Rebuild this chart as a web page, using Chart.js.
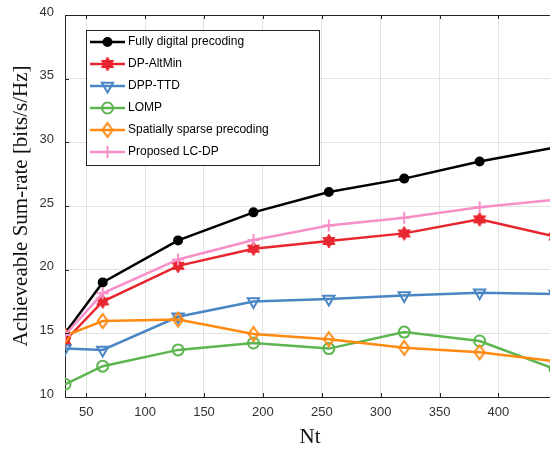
<!DOCTYPE html>
<html>
<head>
<meta charset="utf-8">
<script src="https://cdn.jsdelivr.net/npm/chart.js@4/dist/chart.umd.min.js"></script>
<style>
  html, body { margin: 0; padding: 0; background: #fff; overflow: hidden; }
  #wrap { width: 550px; height: 452px; overflow: hidden; }
  canvas { display: block; }
</style>
</head>
<body>
<div id="wrap"><canvas id="c" width="555" height="452"></canvas></div>
<script>
// Number of transmit antennas
const nt = [32, 64, 128, 192, 256, 320, 384, 448];

// Achievable sum-rate per scheme [bits/s/Hz]
const fullyDigital = [15.0, 19.0, 22.3, 24.5, 26.1, 27.15, 28.5, 29.6];
const dpAltMin     = [14.4, 17.5, 20.3, 21.65, 22.25, 22.85, 23.95, 22.6];
const dppTtd       = [13.8, 13.7, 16.3, 17.5, 17.7, 17.97, 18.19, 18.08];
const lomp         = [11.0, 12.42, 13.7, 14.24, 13.8, 15.1, 14.4, 12.2];
const spatialSparse= [14.8, 15.97, 16.08, 14.95, 14.54, 13.86, 13.51, 12.8];
const lcDp         = [14.87, 18.14, 20.8, 22.33, 23.47, 24.07, 24.9, 25.5];

const seriesNames = ['Fully digital precoding', 'DP-AltMin', 'DPP-TTD', 'LOMP',
                     'Spatially sparse precoding', 'Proposed LC-DP'];

// Axis ticks
const xTicks = [50, 100, 150, 200, 250, 300, 350, 400];
const yTicks = [10, 15, 20, 25, 30, 35, 40];

const C = {
  black: '#000000', red: '#e8262f', blue: '#4a86c3',
  green: '#5cb54f', orange: '#ff8a12', pink: '#f78fc8'
};

// Six-pointed star marker
function hexagram(color) {
  const cv = document.createElement('canvas');
  cv.width = 16; cv.height = 16;
  const g = cv.getContext('2d');
  const R = 7, r = R / Math.sqrt(3);
  g.beginPath();
  for (let i = 0; i < 12; i++) {
    const a = -Math.PI / 2 + i * Math.PI / 6;
    const rr = i % 2 === 0 ? R : r;
    const x = 8 + rr * Math.cos(a), y = 8 + rr * Math.sin(a);
    i === 0 ? g.moveTo(x, y) : g.lineTo(x, y);
  }
  g.closePath();
  g.fillStyle = color; g.fill();
  g.strokeStyle = color; g.lineWidth = 1; g.stroke();
  return cv;
}

// Tall hollow diamond marker
function diamond(color) {
  const cv = document.createElement('canvas');
  cv.width = 14; cv.height = 18;
  const g = cv.getContext('2d');
  g.beginPath();
  g.moveTo(7, 2); g.lineTo(12, 9); g.lineTo(7, 16); g.lineTo(2, 9);
  g.closePath();
  g.strokeStyle = color; g.lineWidth = 2; g.stroke();
  return cv;
}

function ds(label, data, color, extra) {
  return Object.assign({
    label, data, borderColor: color, backgroundColor: color,
    pointBorderColor: color, borderWidth: 2.5, tension: 0,
    pointBorderWidth: 2, pointHoverRadius: 0, fill: false
  }, extra);
}

const datasets = [
  ds(seriesNames[0], fullyDigital, C.black, { pointStyle: 'circle', pointRadius: 4, pointBackgroundColor: C.black, order: 5 }),
  ds(seriesNames[1], dpAltMin, C.red, { pointStyle: hexagram(C.red), pointRadius: 6, order: 4 }),
  ds(seriesNames[2], dppTtd, C.blue, { pointStyle: 'triangle', pointRotation: 180, pointRadius: 6.5, pointBackgroundColor: 'rgba(0,0,0,0)', order: 3 }),
  ds(seriesNames[3], lomp, C.green, { pointStyle: 'circle', pointRadius: 5.5, pointBackgroundColor: 'rgba(0,0,0,0)', order: 2 }),
  ds(seriesNames[4], spatialSparse, C.orange, { pointStyle: diamond(C.orange), pointRadius: 6, order: 1 }),
  ds(seriesNames[5], lcDp, C.pink, { pointStyle: 'cross', pointRadius: 6, order: 0 })
];
datasets.forEach(d => { d.data = d.data.map((v, i) => ({ x: nt[i], y: v })); });

// Box outline, inward tick marks and the in-plot legend
const frame = {
  id: 'frame',
  afterDraw(chart) {
    const { ctx, chartArea: a, scales: { x, y } } = chart;
    ctx.save();
    ctx.strokeStyle = '#262626';
    ctx.lineWidth = 1;
    ctx.beginPath();
    ctx.moveTo(a.left, Math.round(a.top) + 0.5);
    ctx.lineTo(a.right, Math.round(a.top) + 0.5);
    xTicks.forEach(v => {
      const px = Math.round(x.getPixelForValue(v)) + 0.5;
      ctx.moveTo(px, a.bottom); ctx.lineTo(px, a.bottom - 4);
      ctx.moveTo(px, a.top); ctx.lineTo(px, a.top + 4);
    });
    yTicks.forEach(v => {
      const py = Math.round(y.getPixelForValue(v)) + 0.5;
      ctx.moveTo(a.left, py); ctx.lineTo(a.left + 4, py);
    });
    ctx.stroke();

    // legend
    const L = { x: 86.5, y: 30.5, w: 233, h: 135 };
    ctx.fillStyle = '#fff';
    ctx.fillRect(L.x, L.y, L.w, L.h);
    ctx.strokeStyle = '#262626';
    ctx.strokeRect(L.x, L.y, L.w, L.h);
    ctx.font = '12px "Liberation Sans", Arial, sans-serif';
    ctx.textBaseline = 'middle';
    chart.data.datasets.forEach((d, i) => {
      const yy = 42 + i * 22;
      ctx.strokeStyle = d.borderColor;
      ctx.lineWidth = d.borderWidth;
      ctx.beginPath(); ctx.moveTo(90, yy); ctx.lineTo(125, yy); ctx.stroke();
      ctx.fillStyle = d.pointBackgroundColor || d.backgroundColor;
      ctx.strokeStyle = d.pointBorderColor;
      ctx.lineWidth = d.pointBorderWidth;
      Chart.helpers.drawPoint(ctx, {
        pointStyle: d.pointStyle, rotation: d.pointRotation || 0,
        radius: d.pointRadius, borderWidth: d.pointBorderWidth
      }, 107.5, yy);
      ctx.fillStyle = '#000';
      ctx.fillText(d.label, 128, yy);
    });
    ctx.restore();
  }
};

new Chart(document.getElementById('c'), {
  type: 'line',
  data: { datasets },
  plugins: [frame],
  options: {
    responsive: false,
    animation: false,
    devicePixelRatio: 1,
    layout: { autoPadding: false, padding: { left: 0, right: 0, top: 15, bottom: 0 } },
    plugins: { legend: { display: false }, tooltip: { enabled: false } },
    scales: {
      x: {
        type: 'linear', min: 32, max: 448,
        afterBuildTicks: s => { s.ticks = xTicks.map(v => ({ value: v })); },
        afterFit: s => { s.height = 55; s.paddingLeft = 0; s.paddingRight = 0; },
        grid: { color: '#e2e2e2', lineWidth: 1, drawTicks: false },
        border: { display: true, color: '#262626', width: 1 },
        ticks: { padding: 8, color: '#333', font: { family: '"Liberation Sans", Arial, sans-serif', size: 13 }, maxRotation: 0 },
        title: { display: true, text: 'Nt', color: '#111', padding: { top: 0, bottom: 2 },
                 font: { family: '"Liberation Serif", "Times New Roman", serif', size: 21 } }
      },
      y: {
        type: 'linear', min: 10, max: 40,
        afterBuildTicks: s => { s.ticks = yTicks.map(v => ({ value: v })); },
        afterFit: s => { s.width = 65; s.paddingTop = 0; s.paddingBottom = 0; },
        grid: { color: '#e2e2e2', lineWidth: 1, drawTicks: false },
        border: { display: true, color: '#262626', width: 1 },
        ticks: { padding: 11, labelOffset: -3, color: '#333', font: { family: '"Liberation Sans", Arial, sans-serif', size: 13 } },
        title: { display: true, text: 'Achieveable Sum-rate [bits/s/Hz]', color: '#111', padding: { top: 9, bottom: 0 },
                 font: { family: '"Liberation Serif", "Times New Roman", serif', size: 21 } }
      }
    }
  }
});
</script>
</body>
</html>
